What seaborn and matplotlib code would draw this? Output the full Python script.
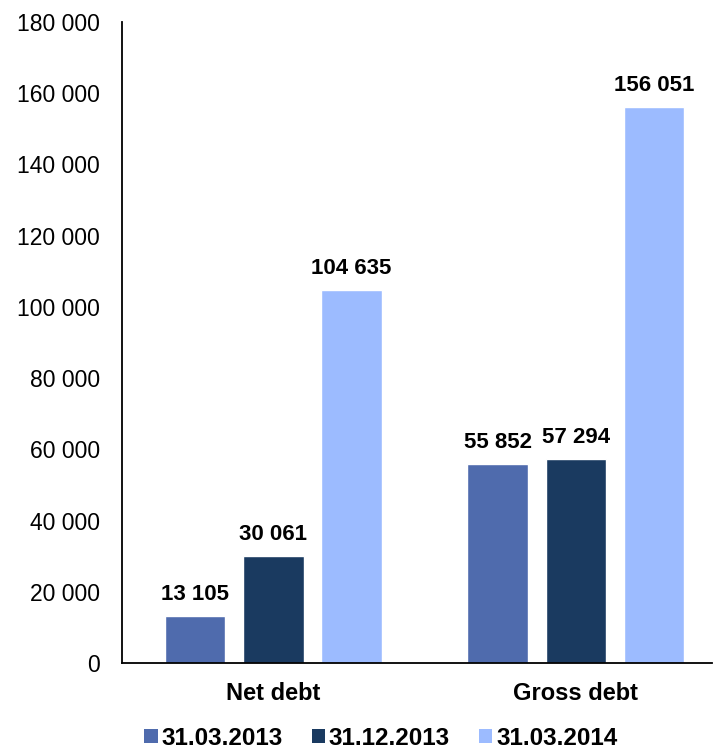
import matplotlib
matplotlib.use("Agg")
import matplotlib.pyplot as plt
import seaborn as sns
import pandas as pd
from matplotlib.ticker import FuncFormatter, MultipleLocator
from matplotlib.patches import Patch

categories = ["Net debt", "Gross debt"]
series = ["31.03.2013", "31.12.2013", "31.03.2014"]
v_2013_03 = [13105, 55852]
v_2013_12 = [30061, 57294]
v_2014_03 = [104635, 156051]
colors = ["#4F6BAD", "#1A3A60", "#9CBBFF"]

rows = []
for s, vals in zip(series, [v_2013_03, v_2013_12, v_2014_03]):
    for c, v in zip(categories, vals):
        rows.append({"cat": c, "series": s, "value": v})
df = pd.DataFrame(rows)

sns.set_style("white")
plt.rcParams["font.family"] = ["Liberation Sans", "DejaVu Sans"]
plt.rcParams["text.color"] = "black"
plt.rcParams["xtick.color"] = "black"
plt.rcParams["ytick.color"] = "black"

fig = plt.figure(figsize=(7.13, 7.52), dpi=100)
ax = fig.add_axes([0.171, 0.1184, 0.8276, 0.8523])
sns.barplot(data=df, x="cat", y="value", hue="series", order=categories,
            hue_order=series, palette=colors, width=0.775, gap=0.225,
            saturation=1, ax=ax, legend=False)

ax.set_ylim(0, 180000)
ax.set_xlim(-0.5, 1.45)
ax.yaxis.set_major_locator(MultipleLocator(20000))
ax.yaxis.set_major_formatter(FuncFormatter(lambda v, p: f"{int(v):,}".replace(",", " ")))
ax.tick_params(axis="y", labelsize=16.5, length=0, pad=16, colors="black")
ax.tick_params(axis="x", labelsize=17, length=0, pad=14, colors="black")
for lbl in ax.get_xticklabels():
    lbl.set_fontweight("bold")
ax.set_xlabel("")
ax.set_ylabel("")
for sp in ["top", "right"]:
    ax.spines[sp].set_visible(False)
for sp in ["left", "bottom"]:
    ax.spines[sp].set_color("black")
    ax.spines[sp].set_linewidth(1.3)

for cont in ax.containers:
    ax.bar_label(cont, labels=[f"{int(v):,}".replace(",", " ") for v in cont.datavalues],
                 padding=8, fontsize=16, fontweight="bold", color="black")

handles = [Patch(facecolor=c, edgecolor="none") for c in colors]
fig.legend(handles, series, loc="lower center", bbox_to_anchor=(0.534, -0.026), ncol=3,
           frameon=False, prop={"size": 17.5, "weight": "bold"}, handlelength=0.55,
           handleheight=0.55, handletextpad=0.15, columnspacing=1.2)

fig.savefig("out.png", dpi=100)
